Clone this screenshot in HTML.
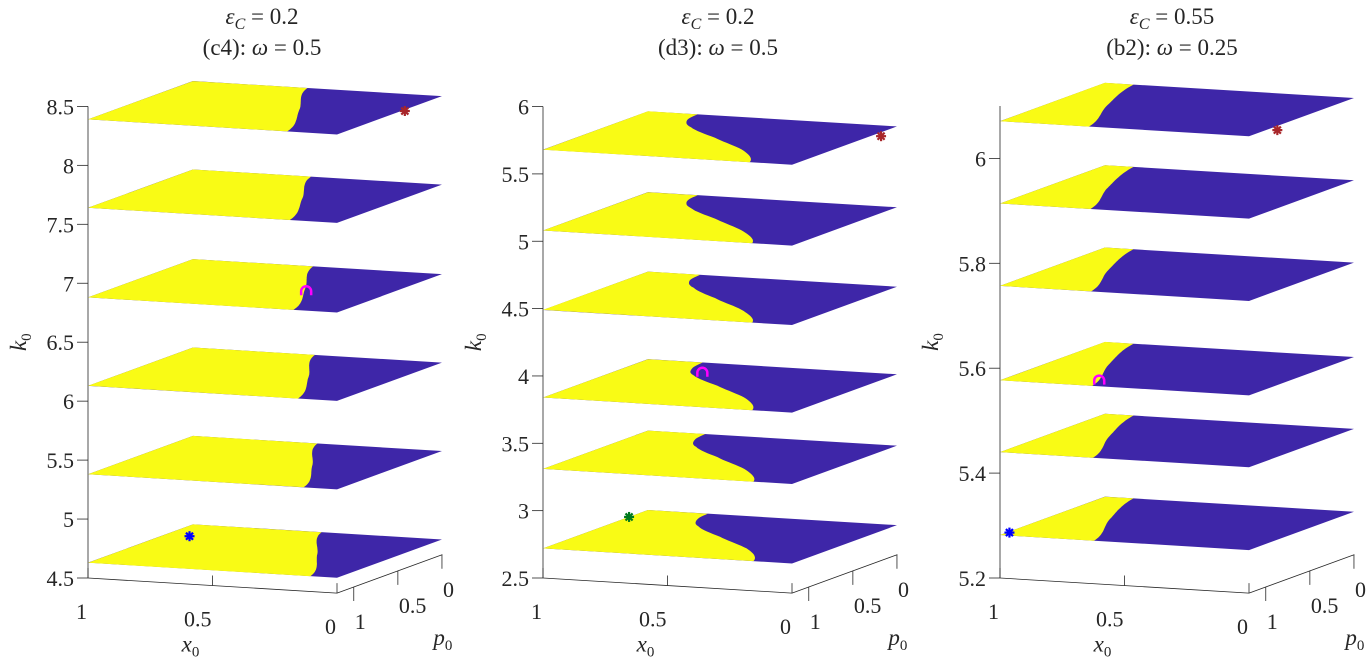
<!DOCTYPE html>
<html><head><meta charset="utf-8">
<style>
html,body{margin:0;padding:0;background:#fff;}
svg{display:block;}
text{font-family:"Liberation Serif",serif;fill:#262626;}
</style></head>
<body>
<svg id="fig" width="1371" height="660" viewBox="0 0 1371 660" xmlns="http://www.w3.org/2000/svg"></svg>
<script>
// ---------- data ----------
// panel (c4)
const p1Levels = [4.63, 5.38, 6.13, 6.88, 7.64, 8.39];
const p1BoundaryDepth = [0, 0.5, 1];
const p1Boundary = [
  [0.483, 0.29, 0.107],
  [0.50, 0.31, 0.134],
  [0.51, 0.325, 0.157],
  [0.517, 0.338, 0.175],
  [0.526, 0.35, 0.19],
  [0.54, 0.362, 0.20]
];
const p1ZTicks = [4.5, 5, 5.5, 6, 6.5, 7, 7.5, 8, 8.5];
const p1Markers = [
  {x0:0.01, p:0.33, k:8.37, type:'star', color:'#a8262a'},
  {x0:0.44, p:0.25, k:6.76, type:'arc', color:'#ff00ff'},
  {x0:0.90, p:0.27, k:4.63, type:'star', color:'#0000ff'}
];
// panel (d3)
const p2Levels = [2.72, 3.31, 3.84, 4.49, 5.08, 5.68];
const p2BoundaryDepth = [0, 0.15, 0.3, 0.5, 0.75, 1];
const p2Boundary = [
  [0.76, 0.74, 0.67, 0.50, 0.28, 0.155],
  [0.77, 0.75, 0.68, 0.51, 0.29, 0.155],
  [0.78, 0.76, 0.69, 0.51, 0.29, 0.16],
  [0.79, 0.77, 0.69, 0.52, 0.30, 0.16],
  [0.80, 0.78, 0.70, 0.52, 0.30, 0.16],
  [0.80, 0.78, 0.70, 0.52, 0.30, 0.17]
];
const p2ZTicks = [2.5, 3, 3.5, 4, 4.5, 5, 5.5, 6];
const p2Markers = [
  {x0:-0.05, p:0.27, k:5.69, type:'star', color:'#a8262a'},
  {x0:0.71, p:0.17, k:3.82, type:'arc', color:'#ff00ff'},
  {x0:1.0, p:0.18, k:2.72, type:'star', color:'#007a1e'}
];
// panel (b2)
const p3Levels = [5.282, 5.44, 5.577, 5.757, 5.914, 6.071];
const p3BoundaryDepth = [0, 0.5, 1];
const p3Boundary = [
  [0.885, 0.77, 0.623],
  [0.885, 0.772, 0.627],
  [0.885, 0.774, 0.63],
  [0.885, 0.776, 0.634],
  [0.885, 0.778, 0.637],
  [0.885, 0.78, 0.643]
];
const p3ZTicks = [5.2, 5.4, 5.6, 5.8, 6];
const p3Markers = [
  {x0:0.0, p:0.73, k:6.063, type:'star', color:'#a8262a'},
  {x0:0.69, p:0.79, k:5.57, type:'arc', color:'#ff00ff'},
  {x0:1.0, p:0.91, k:5.28, type:'star', color:'#0000ff'}
];
const xTicks = [1, 0.5, 0];
const xTickLabels = ['1', '0.5', '0'];
const pTicks = [1, 0.5, 0];
const pTickLabels = ['1', '0.5', '0'];

// ---------- drawing ----------
const NS = 'http://www.w3.org/2000/svg';
const svg = document.getElementById('fig');
const YEL = '#f9fb15', BLU = '#3e26a8';
function mk(tag, parent, attrs){
  const e = document.createElementNS(NS, tag);
  for (const k in attrs) e.setAttribute(k, attrs[k]);
  parent.appendChild(e);
  return e;
}
function interp(xs, ys, t){
  for (let i=0;i<xs.length-1;i++){
    if (t<=xs[i+1]){
      const i0=Math.max(0,i-1), i3=Math.min(xs.length-1,i+2);
      const u=(t-xs[i])/(xs[i+1]-xs[i]);
      const m1=(ys[i+1]-ys[i0])/2, m2=(ys[i3]-ys[i])/2;
      const u2=u*u,u3=u2*u;
      return (2*u3-3*u2+1)*ys[i]+(u3-2*u2+u)*m1+(-2*u3+3*u2)*ys[i+1]+(u3-u2)*m2;
    }
  }
  return ys[ys.length-1];
}
function drawPanel(cfg, levels, bDepth, boundary, zTicks, markers, title1, title2){
  const g = mk('g', svg, {});
  
  
  const ex=[249,15.1], ep=[88.2,-32.2], pLim=1.19;
  const P = (x0, d, k) => [cfg.ox + (1-x0)*ex[0] + (1-d)*pLim*ep[0],
                          cfg.oy + (1-x0)*ex[1] + (1-d)*pLim*ep[1] - (k-cfg.kmin)*cfg.s];
  const Pp = (x0, p, k) => [cfg.ox + (1-x0)*ex[0] + (pLim-p)*ep[0],
                            cfg.oy + (1-x0)*ex[1] + (pLim-p)*ep[1] - (k-cfg.kmin)*cfg.s];
  const t1 = mk('text', g, {x:cfg.tx, y:24, 'font-size':23, 'text-anchor':'middle'});
  
  
  t1.innerHTML = '<tspan font-style="italic">ε</tspan><tspan font-style="italic" font-size="16" dy="5">C</tspan><tspan dy="-5"> = '+title1+'</tspan>';
  const t2 = mk('text', g, {x:cfg.tx, y:55, 'font-size':23, 'text-anchor':'middle'});
  
  
  t2.innerHTML = title2[0]+':  <tspan font-style="italic">ω</tspan> = '+title2[1];
  const axc = '#262626';
  const ztop = cfg.oy - (cfg.kmaxAx-cfg.kmin)*cfg.s;
  const zl = mk('line', g, {x1:cfg.ox, y1:cfg.oy, x2:cfg.ox, y2:ztop, stroke:axc, 'stroke-width':0.8});
  
  
  const a = P(1,1,cfg.kmin), b = P(0,1,cfg.kmin), c = Pp(0,-0.005,cfg.kmin);
  const xl = mk('line', g, {x1:a[0], y1:a[1], x2:b[0], y2:b[1], stroke:axc, 'stroke-width':0.8});
  
  
  const pl = mk('line', g, {x1:b[0], y1:b[1], x2:c[0], y2:c[1], stroke:axc, 'stroke-width':0.8});
  
  
  zTicks.forEach(v => {
    const y = cfg.oy - (v-cfg.kmin)*cfg.s;
    const tl = mk('line', g, {x1:cfg.ox-11, y1:y, x2:cfg.ox, y2:y, stroke:axc, 'stroke-width':0.8});
    
    
    const tx = mk('text', g, {x:cfg.ox-14, y:y+8, 'font-size':22, 'text-anchor':'end'});
    
    
    tx.textContent = String(v);
  });
  xTicks.forEach((v,i) => {
    const q = P(v,1,cfg.kmin);
    const tl = mk('line', g, {x1:q[0], y1:q[1], x2:q[0], y2:q[1]-10, stroke:axc, 'stroke-width':0.8});
    
    
    const tx = mk('text', g, {x:q[0]-1, y:q[1]+41, 'font-size':22, 'text-anchor':'end'});
    
    
    tx.textContent = xTickLabels[i];
  });
  pTicks.forEach((v,i) => {
    const q = Pp(0,v,cfg.kmin);
    const tl = mk('line', g, {x1:q[0], y1:q[1], x2:q[0], y2:q[1]+14, stroke:axc, 'stroke-width':0.8});
    
    
    const tx = mk('text', g, {x:q[0]+1, y:q[1]+42, 'font-size':22, 'text-anchor':'start'});
    
    
    tx.textContent = pTickLabels[i];
  });
  const xm = P(0.5,1,cfg.kmin);
  const xlab = mk('text', g, {x:xm[0]-22, y:xm[1]+66, 'font-size':23, 'text-anchor':'middle', 'font-style':'italic'});
  
  
  xlab.innerHTML = 'x<tspan font-size="15" dy="5" font-style="normal">0</tspan>';
  const pm = Pp(0,0.5,cfg.kmin);
  const plab = mk('text', g, {x:pm[0]+45, y:pm[1]+74, 'font-size':23, 'text-anchor':'middle', 'font-style':'italic'});
  
  
  plab.innerHTML = 'p<tspan font-size="15" dy="5" font-style="normal">0</tspan>';
  const zm = (cfg.oy+ztop)/2;
  const zlab = mk('text', g, {x:cfg.ox-62, y:zm, 'font-size':23, 'text-anchor':'middle', 'font-style':'italic', transform:'rotate(-90 '+(cfg.ox-62)+' '+zm+')'});
  
  
  zlab.innerHTML = 'k<tspan font-size="15" dy="5" font-style="normal">0</tspan>';
  levels.forEach((k, li) => {
    const corners = [P(1,0,k), P(0,0,k), P(0,1,k), P(1,1,k)];
    const bp = mk('polygon', g, {points:corners.map(p=>p.join(',')).join(' '), fill:BLU});
    
    
    const pts = [P(1,1,k), P(1,0,k)];
    for (let i=0;i<=40;i++){
      const d = i/40;
      pts.push(P(interp(bDepth, boundary[li], d), d, k));
    }
    const yp = mk('polygon', g, {points:pts.map(p=>p[0].toFixed(1)+','+p[1].toFixed(1)).join(' '), fill:YEL});
    
    
  });
  markers.forEach(m => {
    const q = P(m.x0, m.p, m.k);
    if (m.type==='star'){
      const s = mk('g', g, {stroke:m.color, 'stroke-width':2.2});
      
      
      for (let j=0;j<4;j++){
        const ang = j*Math.PI/4, r=5;
        mk('line', s, {x1:q[0]-r*Math.cos(ang), y1:q[1]-r*Math.sin(ang), x2:q[0]+r*Math.cos(ang), y2:q[1]+r*Math.sin(ang)});
      }
    } else {
      const s = mk('path', g, {d:'M'+(q[0]-5)+','+(q[1]+4)+' L'+(q[0]-5)+','+q[1]+' A5,5 0 0 1 '+(q[0]+5)+','+q[1]+' L'+(q[0]+5)+','+(q[1]+4), stroke:m.color, 'stroke-width':2.5, fill:'none'});
      
      
    }
  });
}
drawPanel({name:'panel-c4', ox:88, oy:578, kmin:4.5, kmaxAx:8.5, s:117.9, tx:262},
  p1Levels, p1BoundaryDepth, p1Boundary, p1ZTicks, p1Markers, '0.2', ['(c4)','0.5']);
drawPanel({name:'panel-d3', ox:543, oy:578, kmin:2.5, kmaxAx:6, s:134.7, tx:718},
  p2Levels, p2BoundaryDepth, p2Boundary, p2ZTicks, p2Markers, '0.2', ['(d3)','0.5']);
drawPanel({name:'panel-b2', ox:1000, oy:578, kmin:5.2, kmaxAx:6.1, s:524.5, tx:1172},
  p3Levels, p3BoundaryDepth, p3Boundary, p3ZTicks, p3Markers, '0.55', ['(b2)','0.25']);
</script>
</body></html>
